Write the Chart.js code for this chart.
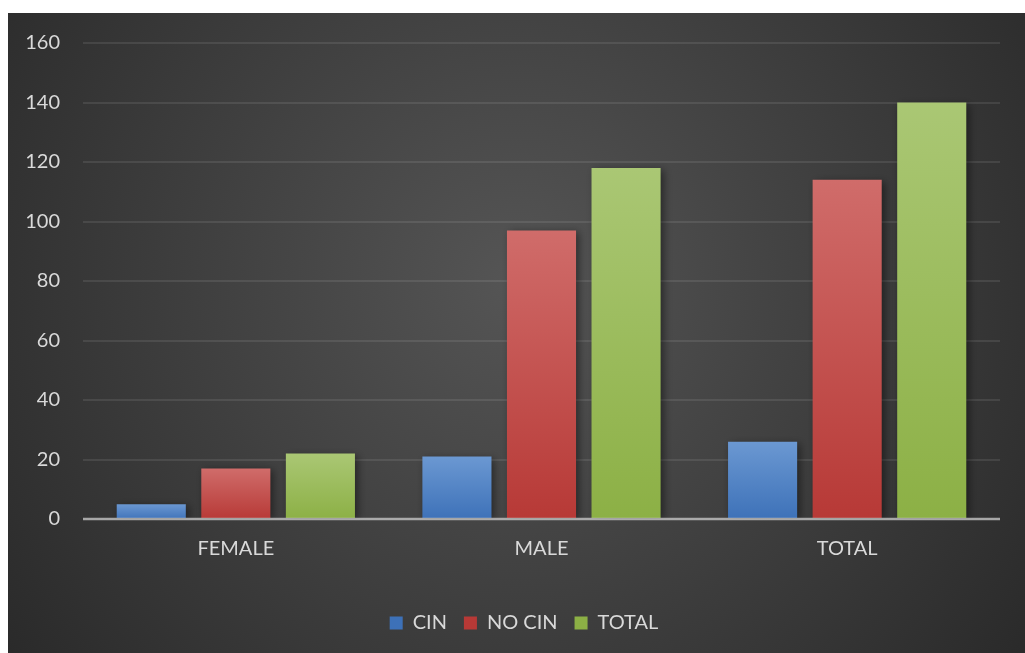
<!DOCTYPE html>
<html>
<head>
<meta charset="utf-8">
<script src="https://cdn.jsdelivr.net/npm/chart.js@4.4.1/dist/chart.umd.min.js"></script>
<style>
  html, body { margin:0; padding:0; background:#ffffff; }
  #wrap { position:absolute; left:8px; top:13px; width:1017px; height:640px; }
</style>
</head>
<body>
<div id="wrap"><canvas id="genderChart"></canvas></div>
<script>
// ----- data -----
const categories = ["FEMALE", "MALE", "TOTAL"];
const cinValues = [5, 21, 26];
const noCinValues = [17, 97, 114];
const totalValues = [22, 118, 140];
const yMax = 160;
const yStep = 20;

Chart.defaults.font.family = "Lato";
Chart.defaults.color = "#d9d9d9";

// vertical gradient per bar (lighter top, darker bottom)
function barFill(top, bottom, flat){
    return function(context){
        const chart = context.chart;
        if(!chart.chartArea || typeof context.raw !== "number"){
            return flat;
        }
        const y = chart.scales.y;
        const y0 = y.getPixelForValue(context.raw);
        const y1 = y.getPixelForValue(0);
        const g = chart.ctx.createLinearGradient(0, y0, 0, y1 + 1);
        g.addColorStop(0, top);
        g.addColorStop(1, bottom);
        return g;
    };
}

const backgroundPlugin = {
    id: "darkBackground",
    beforeDraw(chart){
        const {ctx, width, height} = chart;
        ctx.save();
        const g = ctx.createRadialGradient(width * 0.5, height * 0.42, 0, width * 0.5, height * 0.42, width * 0.62);
        g.addColorStop(0, "#555555");
        g.addColorStop(1, "#2a2a2a");
        ctx.fillStyle = g;
        ctx.fillRect(0, 0, width, height);
        ctx.restore();
    }
};

const shadowPlugin = {
    id: "barShadow",
    beforeDatasetsDraw(chart){
        const ctx = chart.ctx;
        ctx.save();
        ctx.shadowColor = "rgba(0,0,0,0.45)";
        ctx.shadowBlur = 8;
        ctx.shadowOffsetX = 3;
        ctx.shadowOffsetY = 2;
    },
    afterDatasetsDraw(chart){
        const ctx = chart.ctx;
        ctx.restore();
        // zero line on top of bars
        const y = chart.scales.y.getPixelForValue(0);
        const area = chart.chartArea;
        ctx.save();
        ctx.strokeStyle = "rgba(200,200,200,0.75)";
        ctx.lineWidth = 2.5;
        ctx.beginPath();
        ctx.moveTo(area.left, y);
        ctx.lineTo(area.right, y);
        ctx.stroke();
        ctx.restore();
    }
};

new Chart(document.getElementById("genderChart"), {
    type: "bar",
    data: {
        labels: categories,
        datasets: [
            {
                label: "CIN",
                data: cinValues,
                backgroundColor: barFill("#6b98d2", "#3d71b8", "#5686c8")
            },
            {
                label: "NO CIN",
                data: noCinValues,
                backgroundColor: barFill("#d06c6a", "#b73936", "#c44e4b")
            },
            {
                label: "TOTAL",
                data: totalValues,
                backgroundColor: barFill("#aac774", "#8cb045", "#9bbd5b")
            }
        ]
    },
    options: {
        responsive: true,
        maintainAspectRatio: false,
        animation: false,
        categoryPercentage: 0.83,
        barPercentage: 0.817,
        layout: {
            padding: { top: 30, right: 0, left: 15, bottom: 10 }
        },
        plugins: {
            legend: {
                position: "bottom",
                labels: {
                    boxWidth: 13,
                    boxHeight: 13,
                    padding: 17,
                    font: { size: 20 },
                    color: "#d9d9d9"
                }
            },
            tooltip: { enabled: false }
        },
        scales: {
            x: {
                grid: { display: false, drawTicks: false },
                border: { display: false },
                ticks: { padding: 18, font: { size: 20 }, color: "#d9d9d9" },
                afterFit(scale){ scale.height = 77; }
            },
            y: {
                min: 0,
                max: yMax,
                ticks: { stepSize: yStep, padding: 23, font: { size: 20 }, color: "#d9d9d9" },
                grid: { color: "rgba(255,255,255,0.09)", lineWidth: 2, drawTicks: false },
                border: { display: false },
                afterFit(scale){
                    scale.width = 60;
                    scale.paddingTop = 0;
                    scale.paddingBottom = 0;
                }
            },
            // empty right-hand axis that only reserves space
            y2: {
                position: "right",
                grid: { display: false, drawTicks: false },
                border: { display: false },
                ticks: { display: false },
                afterFit(scale){
                    scale.width = 25;
                    scale.paddingTop = 0;
                    scale.paddingBottom = 0;
                }
            }
        }
    },
    plugins: [backgroundPlugin, shadowPlugin]
});
</script>
</body>
</html>
